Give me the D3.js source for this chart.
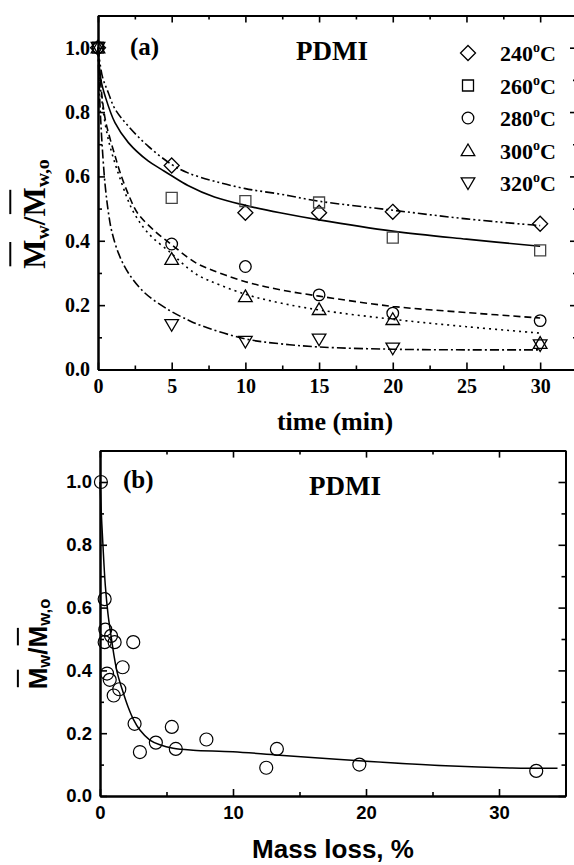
<!DOCTYPE html>
<html>
<head>
<meta charset="utf-8">
<script src="https://cdn.jsdelivr.net/npm/d3@7"></script>
<style>
  html, body { margin: 0; padding: 0; background: #fff; }
  svg { display: block; }
</style>
</head>
<body>
<svg id="chart" width="574" height="865"></svg>
<script>
// ---------- Panel (a) data ----------
const times = [0, 5, 10, 15, 20, 30];
const temps = ["240", "260", "280", "300", "320"];
const m240 = [1.0, 0.634, 0.487, 0.487, 0.490, 0.453];
const m260 = [1.0, 0.533, 0.523, 0.519, 0.410, 0.370];
const m280 = [1.0, 0.390, 0.320, 0.232, 0.175, 0.152];
const m300 = [1.0, 0.343, 0.227, 0.187, 0.156, 0.082];
const m320 = [1.0, 0.139, 0.087, 0.094, 0.066, 0.076];

// fitted curves: [time, value]
const fit240 = [[0,1.0],[0.3,0.91],[0.7,0.86],[1.15,0.81],[2.06,0.756],[3.4,0.694],[5,0.637],[6.1,0.611],[7.9,0.585],[10,0.562],[12.35,0.545],[15,0.523],[20,0.495],[25,0.468],[30,0.447]];
const fit260 = [[0,1.0],[0.2,0.9],[0.48,0.85],[1.15,0.767],[2.06,0.705],[3.4,0.648],[4.3,0.622],[5,0.602],[6.1,0.572],[7.9,0.536],[10,0.51],[12.35,0.487],[15,0.465],[20,0.43],[25,0.405],[30,0.383]];
const fit280 = [[0,1.0],[0.2,0.88],[0.48,0.78],[0.8,0.72],[1.15,0.665],[1.5,0.612],[2.1,0.54],[2.7,0.485],[3.9,0.428],[5,0.388],[6.1,0.348],[6.9,0.325],[10,0.273],[12.35,0.248],[15,0.228],[20,0.196],[25,0.177],[30,0.16]];
const fit300 = [[0,1.0],[0.2,0.86],[0.7,0.715],[1.6,0.58],[2.4,0.49],[3.4,0.424],[5,0.36],[6.1,0.315],[6.9,0.29],[10,0.234],[12.35,0.207],[15,0.185],[20,0.156],[25,0.133],[30,0.113]];
const fit320 = [[0,1.0],[0.1,0.86],[0.25,0.72],[0.48,0.575],[0.7,0.49],[0.93,0.43],[1.4,0.36],[2.06,0.3],[3.2,0.237],[4.8,0.185],[6.1,0.154],[6.9,0.138],[10,0.095],[12.35,0.08],[15,0.07],[20,0.063],[25,0.061],[30,0.061]];

const xTicksA = [0, 5, 10, 15, 20, 25, 30];
const xMinorA = [2.5, 7.5, 12.5, 17.5, 22.5, 27.5, 32.5];
const yTicks = [0.0, 0.2, 0.4, 0.6, 0.8, 1.0];
const yMinor = [0.1, 0.3, 0.5, 0.7, 0.9, 1.1];

// ---------- Panel (b) data ----------
const massLoss = [0.07, 0.35, 0.40, 0.83, 0.35, 1.10, 2.50, 1.70, 0.53, 0.73, 1.45, 1.03, 2.60, 3.00, 4.20, 5.40, 5.70, 8.00, 12.5, 13.3, 19.5, 32.8];
const mwRatio  = [1.00, 0.627, 0.53, 0.51, 0.49, 0.49, 0.49, 0.41, 0.39, 0.37, 0.34, 0.32, 0.23, 0.14, 0.17, 0.22, 0.15, 0.18, 0.09, 0.15, 0.10, 0.08];
const fitB = [[0,1.0],[0.1,0.9],[0.22,0.8],[0.4,0.67],[0.6,0.58],[0.83,0.51],[1.05,0.448],[1.3,0.392],[1.7,0.335],[2.1,0.285],[2.5,0.245],[3,0.21],[3.75,0.178],[4.5,0.163],[5.5,0.152],[7,0.146],[10,0.141],[13.5,0.13],[19.5,0.112],[26,0.096],[31,0.089],[34.4,0.088]];
const xTicksB = [0, 10, 20, 30];
const xMinorB = [5, 15, 25, 35];

const SERIF = "'Liberation Serif','Times New Roman',serif";
const SANS = "'Liberation Sans',Arial,sans-serif";

const svg = d3.select("#chart");

// symbol paths
const symbols = {
  diamond: "M0,-7.5L7.5,0L0,7.5L-7.5,0Z",
  square: "M-5.5,-5.5H5.5V5.5H-5.5Z",
  circle: "M5.8,0A5.8,5.8 0 1,1 -5.8,0A5.8,5.8 0 1,1 5.8,0Z",
  up: "M0,-6.5L6.8,5.2L-6.8,5.2Z",
  down: "M0,6.5L6.8,-5.2L-6.8,-5.2Z"
};

function drawAxes(g, x, y, opts) {
  const [x0, x1] = x.range();
  const [y0, y1] = y.range();
  const font = opts.font;
  g.append("g").attr("transform", `translate(0,${y0})`)
    .call(d3.axisBottom(x).tickValues(opts.xMajor).tickSize(-opts.majLen).tickSizeOuter(0).tickPadding(opts.xPad).tickFormat(d3.format("d")));
  g.append("g").attr("transform", `translate(0,${y0})`)
    .call(d3.axisBottom(x).tickValues(opts.xMinor).tickSize(-opts.minLen).tickSizeOuter(0).tickFormat(""));
  g.append("g").attr("transform", `translate(0,${y1})`)
    .call(d3.axisTop(x).tickValues(opts.xMajor).tickSize(-opts.majLen).tickSizeOuter(0).tickFormat(""));
  g.append("g").attr("transform", `translate(0,${y1})`)
    .call(d3.axisTop(x).tickValues(opts.xMinor).tickSize(-opts.minLen).tickSizeOuter(0).tickFormat(""));
  g.append("g").attr("transform", `translate(${x0},0)`)
    .call(d3.axisLeft(y).tickValues(yTicks).tickSize(-opts.majLen).tickSizeOuter(0).tickPadding(opts.yPad).tickFormat(d3.format(".1f")));
  g.append("g").attr("transform", `translate(${x0},0)`)
    .call(d3.axisLeft(y).tickValues(yMinor).tickSize(-opts.minLen).tickSizeOuter(0).tickFormat(""));
  g.append("g").attr("transform", `translate(${x1},0)`)
    .call(d3.axisRight(y).tickValues(yTicks).tickSize(-opts.majLen).tickSizeOuter(0).tickFormat(""));
  g.append("g").attr("transform", `translate(${x1},0)`)
    .call(d3.axisRight(y).tickValues(yMinor).tickSize(-opts.minLen).tickSizeOuter(0).tickFormat(""));
  g.selectAll(".domain").attr("stroke", "#000").attr("stroke-width", 2);
  g.selectAll(".tick line").attr("stroke", "#000").attr("stroke-width", 1.6);
  g.selectAll(".tick text").attr("font-family", font).attr("font-weight", "bold")
    .attr("font-size", opts.tickSize).attr("fill", "#000");
}

function yLabel(g, x, y, family, size, subShift) {
  const t = g.append("text")
    .attr("transform", `translate(${x},${y}) rotate(-90)`)
    .attr("text-anchor", "middle")
    .attr("font-family", family).attr("font-weight", "bold").attr("font-size", size)
    .attr("fill", "#000");
  t.append("tspan").text("M");
  t.append("tspan").attr("font-size", size * 0.64).attr("dy", size * subShift).text("w");
  t.append("tspan").attr("dy", -size * subShift).text("/");
  t.append("tspan").text("M");
  t.append("tspan").attr("font-size", size * 0.64).attr("dy", size * subShift).text("w,o");
  const node = t.node();
  [0, 3].forEach(i => {
    const e = node.getExtentOfChar(i);
    g.append("line")
      .attr("transform", `translate(${x},${y}) rotate(-90)`)
      .attr("x1", e.x + size * 0.08).attr("x2", e.x + e.width - size * 0.08)
      .attr("y1", -size * 1.12).attr("y2", -size * 1.12)
      .attr("stroke", "#000").attr("stroke-width", 2);
  });
}

// ================= Panel (a) =================
const gA = svg.append("g");
const xA = d3.scaleLinear().domain([0, 32.5]).range([98, 577]);
const yA = d3.scaleLinear().domain([0, 1.1]).range([369.5, 15.5]);

drawAxes(gA, xA, yA, {
  font: SERIF, xMajor: xTicksA, xMinor: xMinorA, majLen: 7, minLen: 4,
  xPad: 9, yPad: 8, tickSize: 20
});

const lineA = d3.line().x(d => xA(d[0])).y(d => yA(d[1])).curve(d3.curveCatmullRom.alpha(0.5));
const fitsA = [
  { d: fit240, dash: "9,3,2,3,2,3" },
  { d: fit260, dash: null },
  { d: fit280, dash: "7,4" },
  { d: fit300, dash: "2,4" },
  { d: fit320, dash: "9,3,2,3" }
];
fitsA.forEach(f => {
  gA.append("path").attr("d", lineA(f.d)).attr("fill", "none")
    .attr("stroke", "#000").attr("stroke-width", 1.6)
    .attr("stroke-dasharray", f.dash);
});

const seriesA = [
  { v: m240, s: "diamond" },
  { v: m260, s: "square" },
  { v: m280, s: "circle" },
  { v: m300, s: "up" },
  { v: m320, s: "down" }
];
seriesA.forEach(se => {
  gA.selectAll(null).data(times.map((t, i) => [t, se.v[i]])).join("path")
    .attr("transform", d => `translate(${xA(d[0])},${yA(d[1])})`)
    .attr("d", symbols[se.s]).attr("fill", "none")
    .attr("stroke", se.s === "square" ? "#444" : "#000").attr("stroke-width", 1.3);
});

// legend
seriesA.forEach((se, i) => {
  const cy = 53 + i * 32.5;
  gA.append("path").attr("transform", `translate(468,${cy})`).attr("d", symbols[se.s])
    .attr("fill", "none").attr("stroke", "#000").attr("stroke-width", 1.3);
  const t = gA.append("text").attr("x", 500).attr("y", cy + 8)
    .attr("font-family", SERIF).attr("font-weight", "bold").attr("font-size", 22).attr("fill", "#000");
  t.append("tspan").text(temps[i]);
  t.append("tspan").attr("font-size", 14).attr("dy", -9).text("o");
  t.append("tspan").attr("dy", 9).text("C");
});

gA.append("text").attr("x", 130).attr("y", 55).attr("font-family", SERIF).attr("font-weight", "bold")
  .attr("font-size", 25).text("(a)");
gA.append("text").attr("x", 296).attr("y", 60).attr("font-family", SERIF).attr("font-weight", "bold")
  .attr("font-size", 27).text("PDMI");
gA.append("text").attr("x", 335).attr("y", 430).attr("text-anchor", "middle").attr("font-family", SERIF)
  .attr("font-weight", "bold").attr("font-size", 26).text("time (min)");
yLabel(gA, 45, 214, SERIF, 31, 0.12);

// ================= Panel (b) =================
const gB = svg.append("g");
const xB = d3.scaleLinear().domain([0, 35]).range([100, 565.5]);
const yB = d3.scaleLinear().domain([0, 1.1]).range([796, 450.6]);

drawAxes(gB, xB, yB, {
  font: SANS, xMajor: xTicksB, xMinor: xMinorB, majLen: 7, minLen: 4,
  xPad: 10, yPad: 8, tickSize: 18.5
});

const lineB = d3.line().x(d => xB(d[0])).y(d => yB(d[1])).curve(d3.curveCatmullRom.alpha(0.5));
gB.append("path").attr("d", lineB(fitB)).attr("fill", "none").attr("stroke", "#000").attr("stroke-width", 1.5);

gB.selectAll(null).data(massLoss.map((m, i) => [m, mwRatio[i]])).join("circle")
  .attr("cx", d => xB(d[0])).attr("cy", d => yB(d[1])).attr("r", 6.5)
  .attr("fill", "none").attr("stroke", "#000").attr("stroke-width", 1.2);

gB.append("text").attr("x", 123).attr("y", 488).attr("font-family", SERIF).attr("font-weight", "bold")
  .attr("font-size", 25).text("(b)");
gB.append("text").attr("x", 309).attr("y", 495).attr("font-family", SERIF).attr("font-weight", "bold")
  .attr("font-size", 27).text("PDMI");
gB.append("text").attr("x", 333).attr("y", 858).attr("text-anchor", "middle").attr("font-family", SANS)
  .attr("font-weight", "bold").attr("font-size", 26).text("Mass loss, %");
yLabel(gB, 47, 644, SANS, 26, 0.1);
</script>
</body>
</html>
